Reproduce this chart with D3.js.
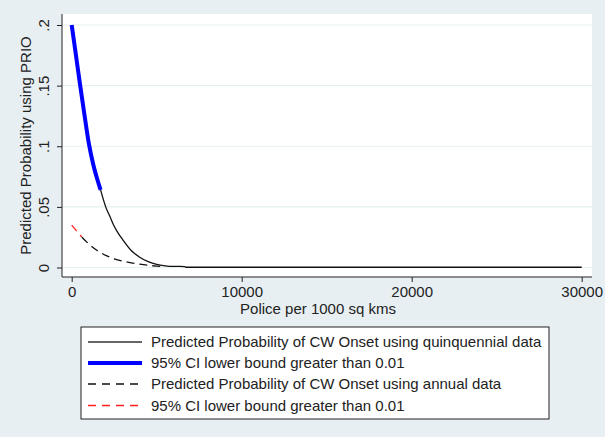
<!DOCTYPE html>
<html>
<head>
<meta charset="utf-8">
<script src="https://cdn.jsdelivr.net/npm/d3@7/dist/d3.min.js"></script>
<style>
  html, body { margin: 0; padding: 0; background: #e8eff2; }
  svg { display: block; font-family: "Liberation Sans", Arial, sans-serif; }
</style>
</head>
<body>
<script>
// Predicted probability of civil-war onset by police density
const quinqX   = [0, 250, 500, 750, 1000, 1250, 1500, 1700, 2000, 2250, 2500, 2750, 3000, 3500, 4000, 4500, 5000, 5500, 6000, 6650, 6700, 30000];
const quinqP   = [0.200, 0.175, 0.150, 0.126, 0.103, 0.086, 0.073, 0.064, 0.050, 0.042, 0.034, 0.028, 0.023, 0.014, 0.0085, 0.0048, 0.0025, 0.0014, 0.0009, 0.0008, 0.0002, 0.0002];
const quinqSigEnd = 1700;   // CI lower bound > 0.01 up to here

const annualX  = [0, 300, 600, 1000, 1500, 2000, 2500, 3000, 3500, 4000, 4500, 5000, 5500];
const annualP  = [0.035, 0.030, 0.025, 0.0195, 0.0140, 0.0100, 0.0072, 0.0053, 0.0038, 0.0027, 0.0018, 0.0011, 0.0006];
const annualSigEnd = 600;

const yTicks = [0, 0.05, 0.1, 0.15, 0.2];
const yTickLabels = ["0", ".05", ".1", ".15", ".2"];
const xTicks = [0, 10000, 20000, 30000];
const xTickLabels = ["0", "10000", "20000", "30000"];

const legendLabels = [
  "Predicted Probability of CW Onset using quinquennial data",
  "95% CI lower bound greater than 0.01",
  "Predicted Probability of CW Onset using annual data",
  "95% CI lower bound greater than 0.01"
];

const W = 605, H = 437;
const plot = { left: 62, right: 592, top: 14, bottom: 277 };

const svg = d3.select("body").append("svg").attr("width", W).attr("height", H);
svg.append("rect").attr("width", W).attr("height", H).attr("fill", "#e8eff2");

const x = d3.scaleLinear().domain([0, 30000]).range([71.7, 581.7]);
const y = d3.scaleLinear().domain([0, 0.2]).range([267.5, 25]);

// plot region
svg.append("rect")
  .attr("x", plot.left).attr("y", plot.top)
  .attr("width", plot.right - plot.left).attr("height", plot.bottom - plot.top)
  .attr("fill", "#ffffff");

// gridlines
svg.append("g").selectAll("line").data(yTicks).join("line")
  .attr("x1", plot.left).attr("x2", plot.right)
  .attr("y1", d => y(d)).attr("y2", d => y(d))
  .attr("stroke", "#e6eff2").attr("stroke-width", 1.2);

// y axis
const yAxis = d3.axisLeft(y).tickValues(yTicks).tickFormat((d, i) => yTickLabels[i]).tickSize(5).tickPadding(6);
const gy = svg.append("g").attr("transform", `translate(${plot.left},0)`).call(yAxis);
gy.select(".domain").attr("d", `M0,${plot.top}V${plot.bottom}`).attr("stroke", "#222");
gy.selectAll(".tick line").attr("stroke", "#222");
gy.selectAll(".tick text")
  .attr("font-size", 15).attr("fill", "#222")
  .attr("text-anchor", "middle")
  .attr("x", null).attr("dy", null)
  .attr("transform", "translate(-13,0) rotate(-90)");

// x axis
const xAxis = d3.axisBottom(x).tickValues(xTicks).tickFormat((d, i) => xTickLabels[i]).tickSize(5).tickPadding(4);
const gx = svg.append("g").attr("transform", `translate(0,${plot.bottom})`).call(xAxis);
gx.select(".domain").attr("d", `M${plot.left},0H${plot.right}`).attr("stroke", "#222");
gx.selectAll(".tick line").attr("stroke", "#222");
gx.selectAll(".tick text").attr("font-size", 15).attr("fill", "#222").attr("dy", "0.71em");

// axis titles
svg.append("text")
  .attr("transform", `translate(31,${(plot.top + plot.bottom) / 2}) rotate(-90)`)
  .attr("text-anchor", "middle").attr("font-size", 15).attr("fill", "#222")
  .text("Predicted Probability using PRIO");
svg.append("text")
  .attr("x", 318).attr("y", 314)
  .attr("text-anchor", "middle").attr("font-size", 15).attr("fill", "#222")
  .text("Police per 1000 sq kms");

// series
const line = d3.line().x(d => x(d[0])).y(d => y(d[1])).curve(d3.curveMonotoneX);
const quinq = quinqX.map((v, i) => [v, quinqP[i]]);
const annual = annualX.map((v, i) => [v, annualP[i]]);

svg.append("path").datum(quinq.filter(d => d[0] >= quinqSigEnd))
  .attr("d", line).attr("fill", "none").attr("stroke", "#111").attr("stroke-width", 1.3);
svg.append("path").datum(quinq.filter(d => d[0] <= quinqSigEnd))
  .attr("d", line).attr("fill", "none").attr("stroke", "#0000ff").attr("stroke-width", 4);

svg.append("path").datum(annual.filter(d => d[0] >= annualSigEnd))
  .attr("d", line).attr("fill", "none").attr("stroke", "#111").attr("stroke-width", 1.3)
  .attr("stroke-dasharray", "8,5");
svg.append("path").datum(annual.filter(d => d[0] <= annualSigEnd))
  .attr("d", line).attr("fill", "none").attr("stroke", "#ff2020").attr("stroke-width", 1.3)
  .attr("stroke-dasharray", "8,5");

// legend
const lg = svg.append("g");
lg.append("rect").attr("x", 81).attr("y", 327).attr("width", 468).attr("height", 92)
  .attr("fill", "#ffffff").attr("stroke", "#222").attr("stroke-width", 1);
const legendStyles = [
  { color: "#333", width: 1.3, dash: null },
  { color: "#0000ff", width: 4, dash: null },
  { color: "#111", width: 1.3, dash: "8,6" },
  { color: "#ff2020", width: 1.3, dash: "8,6" }
];
const rowY = [342, 363, 384, 405.5];
legendLabels.forEach((t, i) => {
  const s = legendStyles[i];
  lg.append("line").attr("x1", 88).attr("x2", 142).attr("y1", rowY[i]).attr("y2", rowY[i])
    .attr("stroke", s.color).attr("stroke-width", s.width)
    .attr("stroke-dasharray", s.dash);
  lg.append("text").attr("x", 151).attr("y", rowY[i]).attr("dy", "0.35em")
    .attr("font-size", 15).attr("fill", "#222").text(t);
});
</script>
</body>
</html>
